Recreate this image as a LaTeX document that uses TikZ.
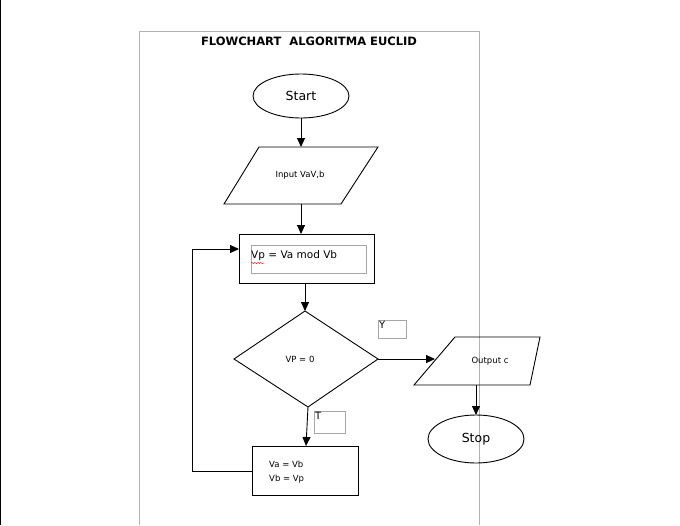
\documentclass[tikz,border=0pt]{standalone}
\usepackage{fontspec}
\setmainfont{DejaVu Sans}
\usetikzlibrary{arrows.meta,decorations.pathmorphing}
\begin{document}
\begin{tikzpicture}[x=1pt,y=-1pt,
  line/.style={draw=black,line width=0.9pt},
  arr/.style={line,-{Triangle[length=9pt,width=8pt]}},
  lbl/.style={font=\fontsize{8.5}{9.5}\selectfont,inner sep=0pt},
  box/.style={draw=black!35,line width=0.6pt}]
\useasboundingbox (0,0) rectangle (680,525);
\draw[black!30,line width=0.6pt] (139,525) -- (139,31) -- (479,31) -- (479,525);
\draw[black,line width=0.8pt] (0.5,0) -- (0.5,525);
\node[font=\bfseries\fontsize{11.5}{12}\selectfont] (title) at (309,41) {FLOWCHART\ \ ALGORITMA EUCLID};
% start
\draw[line] (301,96) ellipse (48 and 22);
\node[font=\fontsize{12.5}{13}\selectfont] (start) at (301,96) {Start};
\coordinate (startb) at (301,118);
% input
\draw[line] (259,147) -- (378,147) -- (341,204) -- (224,204) -- cycle;
\node[lbl] (input) at (300,175) {Input VaV,b};
\coordinate (inputt) at (301,147);
\coordinate (inputb) at (301,204);
% vp rect
\draw[line] (239,234) rectangle (374,283);
\draw[box] (251,245) rectangle (366,273);
\node[anchor=west,font=\fontsize{10.5}{11}\selectfont,inner sep=0pt] (vp) at (251,256) {Vp = Va mod Vb};
\draw[red,line width=0.4pt,decorate,decoration={snake,amplitude=0.6pt,segment length=3pt}] (251,263) -- (264,263);
\coordinate (vpt) at (301,234);
\coordinate (vpb) at (305,283);
\coordinate (vpl) at (239,249);
% diamond
\draw[line] (305,311) -- (378,359) -- (308,407) -- (234,359) -- cycle;
\node[lbl] (cond) at (300,359) {VP = 0};
\coordinate (dt) at (305,311);
\coordinate (dr) at (378,359);
\coordinate (db) at (308,407);
% Y / T boxes
\draw[box] (378,320) rectangle (406,338);
\node[anchor=north west,font=\fontsize{10}{11}\selectfont\rmfamily,inner sep=1pt] (y) at (378,320) {Y};
\draw[box] (314,411) rectangle (345,433);
\node[anchor=north west,font=\fontsize{10}{11}\selectfont\rmfamily,inner sep=1pt] (t) at (314,411) {T};
% output
\draw[line] (455,337) -- (540,337) -- (530,385) -- (414,385) -- cycle;
\node[lbl] (out) at (490,361) {Output c};
\coordinate (outl) at (435,359);
\coordinate (outb) at (476,385);
% stop
\draw[line] (476,439) ellipse (48 and 24);
\node[font=\fontsize{12.5}{13}\selectfont] (stop) at (476,439) {Stop};
\coordinate (stopt) at (476,415);
% swap rect
\draw[line] (252,446) rectangle (358,495);
\node[anchor=west,lbl,align=left] (swap) at (269,472) {Va = Vb\\[4pt]Vb = Vp};
\coordinate (swt) at (306,446);
\coordinate (swl) at (252,471);
\coordinate (c1) at (192,471);
\coordinate (c2) at (192,249);
% connectors
\draw[arr] (startb) -- (inputt);
\draw[arr] (inputb) -- (vpt);
\draw[arr] (vpb) -- (dt);
\draw[arr] (dr) -- (outl);
\draw[arr] (outb) -- (stopt);
\draw[arr] (db) -- (swt);
\draw[arr] (swl) -- (c1) -- (c2) -- (vpl);
\end{tikzpicture}
\end{document}
